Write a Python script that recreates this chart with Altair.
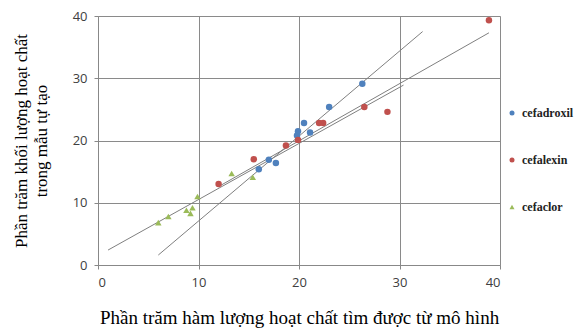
import altair as alt
import pandas as pd

series_names = ["cefadroxil", "cefalexin", "cefaclor"]
series_colors = ["#4F81BD", "#C0504D", "#9BBB59"]
series_shapes = ["circle", "circle", "triangle-up"]

cefadroxil_x = [26.3, 23.0, 20.5, 19.9, 19.8, 21.1, 17.0, 17.7, 16.0]
cefadroxil_y = [29.1, 25.4, 22.8, 21.5, 20.8, 21.3, 16.9, 16.4, 15.4]

cefalexin_x = [38.9, 26.5, 28.8, 22.0, 22.4, 19.9, 18.7, 15.5, 12.0]
cefalexin_y = [39.3, 25.4, 24.6, 22.8, 22.8, 20.1, 19.2, 17.0, 13.0]

cefaclor_x = [6.0, 7.0, 8.8, 9.2, 9.4, 9.9, 13.3, 15.4]
cefaclor_y = [6.8, 7.8, 8.8, 8.3, 9.2, 11.0, 14.7, 14.1]

# trend line endpoints (start, end) per series
trend_x = {"cefadroxil": [6.0, 32.3], "cefalexin": [12.0, 38.9], "cefaclor": [1.0, 30.4]}
trend_y = {"cefadroxil": [1.6, 37.5], "cefalexin": [12.6, 37.3], "cefaclor": [2.4, 28.9]}

x_ticks = [0, 10, 20, 30, 40]
y_ticks = [0, 5, 10, 15, 20, 25, 30, 35, 40]

rows = []
for name, xs, ys in [("cefadroxil", cefadroxil_x, cefadroxil_y),
                     ("cefalexin", cefalexin_x, cefalexin_y),
                     ("cefaclor", cefaclor_x, cefaclor_y)]:
    for a, b in zip(xs, ys):
        rows.append({"x": a, "y": b, "series": name})
pts = pd.DataFrame(rows)

trows = []
for name in series_names:
    for a, b in zip(trend_x[name], trend_y[name]):
        trows.append({"x": a, "y": b, "series": name})
trend = pd.DataFrame(trows)

xscale = alt.Scale(domain=[0, 40], nice=False)
yscale = alt.Scale(domain=[0, 40], nice=False)

xaxis = alt.Axis(values=x_ticks, title="Phần trăm hàm lượng hoạt chất tìm được từ mô hình",
                 titleFont="Liberation Serif", titleFontSize=19, titleFontWeight="normal",
                 titleColor="#000000", titlePadding=19,
                 labelFont="Open Sans", labelFontSize=13, labelColor="#404040", labelPadding=7,
                 tickSize=4, tickColor="#888888", domainColor="#888888",
                 gridColor="#8a8a8a", gridWidth=1)
yaxis = alt.Axis(values=y_ticks, title=["Phần trăm khối lượng hoạt chất", "trong mẫu tự tạo"],
                 titleFont="Liberation Serif", titleFontSize=17, titleFontWeight="normal",
                 titleColor="#000000", titlePadding=22, titleLineHeight=20,
                 labelFont="Open Sans", labelFontSize=13, labelColor="#404040", labelPadding=7,
                 tickSize=4, tickColor="#888888", domainColor="#888888",
                 gridColor="#8a8a8a", gridWidth=1)

lines = alt.Chart(trend).mark_line(color="#7f7f7f", strokeWidth=1).encode(
    x=alt.X("x:Q", scale=xscale, axis=xaxis),
    y=alt.Y("y:Q", scale=yscale, axis=yaxis),
    detail="series:N",
)

legend = alt.Legend(title=None, orient="none", legendX=408, legendY=91,
                    labelFont="Liberation Serif", labelFontSize=12,
                    labelFontWeight="bold", labelColor="#222222", labelLimit=200,
                    symbolSize=25, rowPadding=35, labelOffset=4)

points = alt.Chart(pts).mark_point(filled=True, size=42, opacity=1).encode(
    x=alt.X("x:Q", scale=xscale),
    y=alt.Y("y:Q", scale=yscale),
    color=alt.Color("series:N", scale=alt.Scale(domain=series_names, range=series_colors),
                    legend=legend),
    shape=alt.Shape("series:N", scale=alt.Scale(domain=series_names, range=series_shapes),
                    legend=legend),
)

chart = alt.layer(lines, points).properties(
    width=402, height=249,
    autosize=alt.AutoSizeParams(type="none"),
    padding={"left": 90, "top": 8, "right": 74, "bottom": 64},
).configure_view(stroke=None).configure(background="white")

chart.save("out.html", embed_options={"renderer": "svg", "actions": False})
